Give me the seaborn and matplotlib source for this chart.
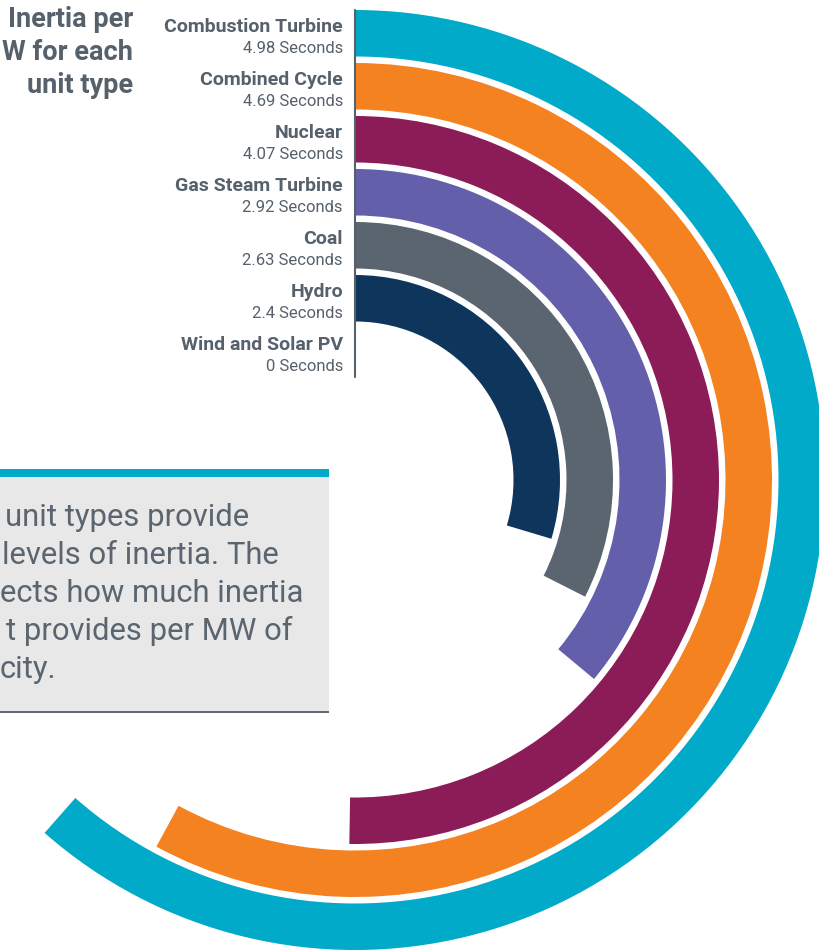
import numpy as np
import matplotlib
matplotlib.use('Agg')
import matplotlib.pyplot as plt
import seaborn as sns
from matplotlib.patches import Rectangle

# ---------- dados ----------
unit_types = ['Combustion Turbine', 'Combined Cycle', 'Nuclear', 'Gas Steam Turbine',
              'Coal', 'Hydro', 'Wind and Solar PV']
inertia_s = [4.98, 4.69, 4.07, 2.92, 2.63, 2.4, 0]
bar_colors = ['#00aac8', '#f58220', '#8c1c57', '#645fab', '#5a6570', '#0e365d', '#bfc5ca']
title_lines = ['Inertia per', 'W for each', 'unit type']
note_lines = ['unit types provide', 'levels of inertia. The', 'ects how much inertia',
              't provides per MW of', 'city.']

SCALE_MAX = 8.1           # segundos correspondentes a uma volta completa
TXT = '#56616c'
TEAL = '#00aac8'

sns.set_theme(style='white')
plt.rcParams['font.family'] = ['Roboto', 'DejaVu Sans']

W, H = 820, 952
fig = plt.figure(figsize=(W / 100, H / 100), dpi=100)

def fx(px):
    return px / W

def fy(py):
    return 1 - py / H

# ---------- grafico radial ----------
cx, cy, R = 355, 480, 472
ax = fig.add_axes([fx(cx - R), fy(cy + R), 2 * R / W, 2 * R / H], projection='polar')
ax.set_theta_zero_location('N')
ax.set_theta_direction(-1)
ax.set_ylim(0, R)
ax.set_axis_off()

step, thick = 53, 46.5
r_outer = 470
r_center = np.array([r_outer - thick / 2 - step * i for i in range(len(unit_types))])
theta = np.array(inertia_s) / SCALE_MAX * 2 * np.pi

ax.barh(r_center, theta, left=0, height=thick, color=bar_colors, linewidth=0)
ax.plot([0, 0], [r_center[-1] - thick / 2 - 2, r_outer], color=TXT, lw=1.5, zorder=5)

for i, (name, val) in enumerate(zip(unit_types, inertia_s)):
    ax.annotate(name, xy=(0, r_center[i]), xytext=(-12, 6), textcoords='offset pixels',
                ha='right', va='center', fontsize=14, fontweight='bold', color=TXT)
    ax.annotate(f'{val:g} Seconds', xy=(0, r_center[i]), xytext=(-12, -15),
                textcoords='offset pixels', ha='right', va='center', fontsize=12, color=TXT)

# ---------- titulo ----------
for k, line in enumerate(title_lines):
    fig.text(fx(133), fy(27 + 33 * k), line, ha='right', va='baseline',
             fontsize=19.5, fontweight='bold', color=TXT)

# ---------- caixa de texto ----------
fig.add_artist(Rectangle((0, fy(711)), fx(329), (711 - 477) / H, transform=fig.transFigure,
                         facecolor='#e8e8e8', edgecolor='none', zorder=1))
fig.add_artist(Rectangle((0, fy(477)), fx(329), 8 / H, transform=fig.transFigure,
                         facecolor=TEAL, edgecolor='none', zorder=1))
fig.add_artist(Rectangle((0, fy(712.5)), fx(329), 2 / H, transform=fig.transFigure,
                         facecolor='#5f6a74', edgecolor='none', zorder=1))

note_x = [5, 2, 0, 6, 0]
for k, (line, x0) in enumerate(zip(note_lines, note_x)):
    fig.text(fx(x0), fy(526 + 38 * k), line, ha='left', va='baseline',
             fontsize=22.3, color='#5a6570')

fig.savefig('out.png', dpi=100)
